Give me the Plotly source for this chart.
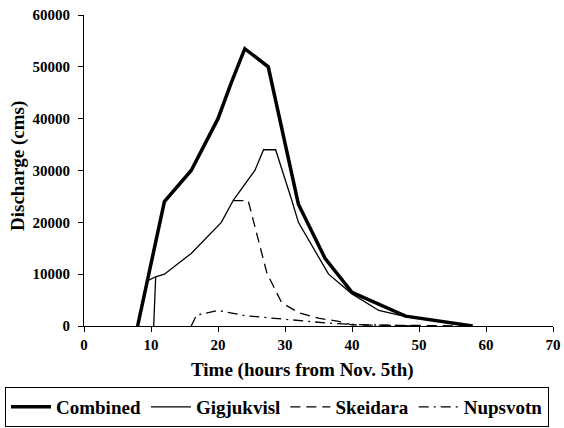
import plotly.graph_objects as go

# Data
combined_t = [8, 12, 16, 20, 22, 24, 27.5, 32, 36, 40, 48, 58]
combined_q = [0, 24000, 30000, 40000, 47000, 53500, 50000, 23500, 13000, 6500, 1900, 0]

gig_t = [9.3, 10.7, 10.4, None, 10.7, 12, 16, 20.5, 22.3, 25.5, 26.8, 28.6, 31, 32, 36.5, 40, 44, 48, 58]
gig_q = [8600, 9500, 0, None, 9500, 10000, 14000, 20000, 24300, 30000, 34000, 34000, 24300, 20000, 10000, 6200, 3000, 1800, 0]

skei_t = [22.3, 24.5, 27.3, 29.5, 32, 35, 38, 40, 50, 58]
skei_q = [24200, 24200, 10200, 4500, 2600, 1500, 900, 200, 100, 0]

nups_t = [16, 16.8, 20, 24, 30, 36, 40, 50]
nups_q = [0, 2100, 3000, 2000, 1300, 600, 300, 0]

x_ticks = [0, 10, 20, 30, 40, 50, 60, 70]
y_ticks = [0, 10000, 20000, 30000, 40000, 50000, 60000]

x_title = "Time (hours from Nov. 5th)"
y_title = "Discharge (cms)"

FONT = "Liberation Serif"

fig = go.Figure()
fig.add_trace(go.Scatter(x=combined_t, y=combined_q, mode="lines", name="<b>Combined</b>",
                         line=dict(color="black", width=3.5)))
fig.add_trace(go.Scatter(x=gig_t, y=gig_q, mode="lines", name="<b>Gigjukvisl</b>",
                         line=dict(color="black", width=1.3), connectgaps=False))
fig.add_trace(go.Scatter(x=skei_t, y=skei_q, mode="lines", name="<b>Skeidara</b>",
                         line=dict(color="black", width=1.3, dash="10px,6px")))
fig.add_trace(go.Scatter(x=nups_t, y=nups_q, mode="lines", name="<b>Nupsvotn</b>",
                         line=dict(color="black", width=1.3, dash="10px,5px,2px,5px")))

fig.update_layout(
    width=564, height=428,
    margin=dict(l=84, r=11, t=15, b=102, autoexpand=False),
    paper_bgcolor="white", plot_bgcolor="white",
    font=dict(family=FONT, color="black", size=15),
    showlegend=True,
    legend=dict(orientation="h", x=(5 - 84) / 469, xanchor="left",
                y=-(427 - 326) / 311, yanchor="bottom",
                bordercolor="black", borderwidth=1,
                font=dict(family=FONT, size=19, color="black"),
                itemwidth=40, tracegroupgap=0),
    annotations=[
        dict(text=f"<b>{x_title}</b>", xref="paper", yref="paper",
             x=(302.5 - 84) / 469, y=-(370 - 326) / 311, xanchor="center", yanchor="middle",
             showarrow=False, font=dict(family=FONT, size=19, color="black")),
        dict(text=f"<b>{y_title}</b>", xref="paper", yref="paper", textangle=-90,
             x=(18 - 84) / 469, y=(326 - 166) / 311, xanchor="center", yanchor="middle",
             showarrow=False, font=dict(family=FONT, size=19, color="black")),
    ],
)
fig.update_xaxes(range=[0, 70], tickvals=x_ticks, ticktext=[f"<b>{v}</b>" for v in x_ticks],
                 showline=True, linecolor="black", linewidth=1, ticks="outside", ticklen=5,
                 tickcolor="black", showgrid=False, zeroline=False,
                 tickfont=dict(family=FONT, size=15))
fig.update_yaxes(range=[0, 60000], tickvals=y_ticks, ticktext=[f"<b>{v}</b>" for v in y_ticks],
                 showline=True, linecolor="black", linewidth=1, ticks="outside", ticklen=5,
                 tickcolor="black", showgrid=False, zeroline=False, ticklabelstandoff=5,
                 tickfont=dict(family=FONT, size=15))

fig.write_html("out.html", config={"displayModeBar": False},
               post_script="document.body.style.margin='0';")
